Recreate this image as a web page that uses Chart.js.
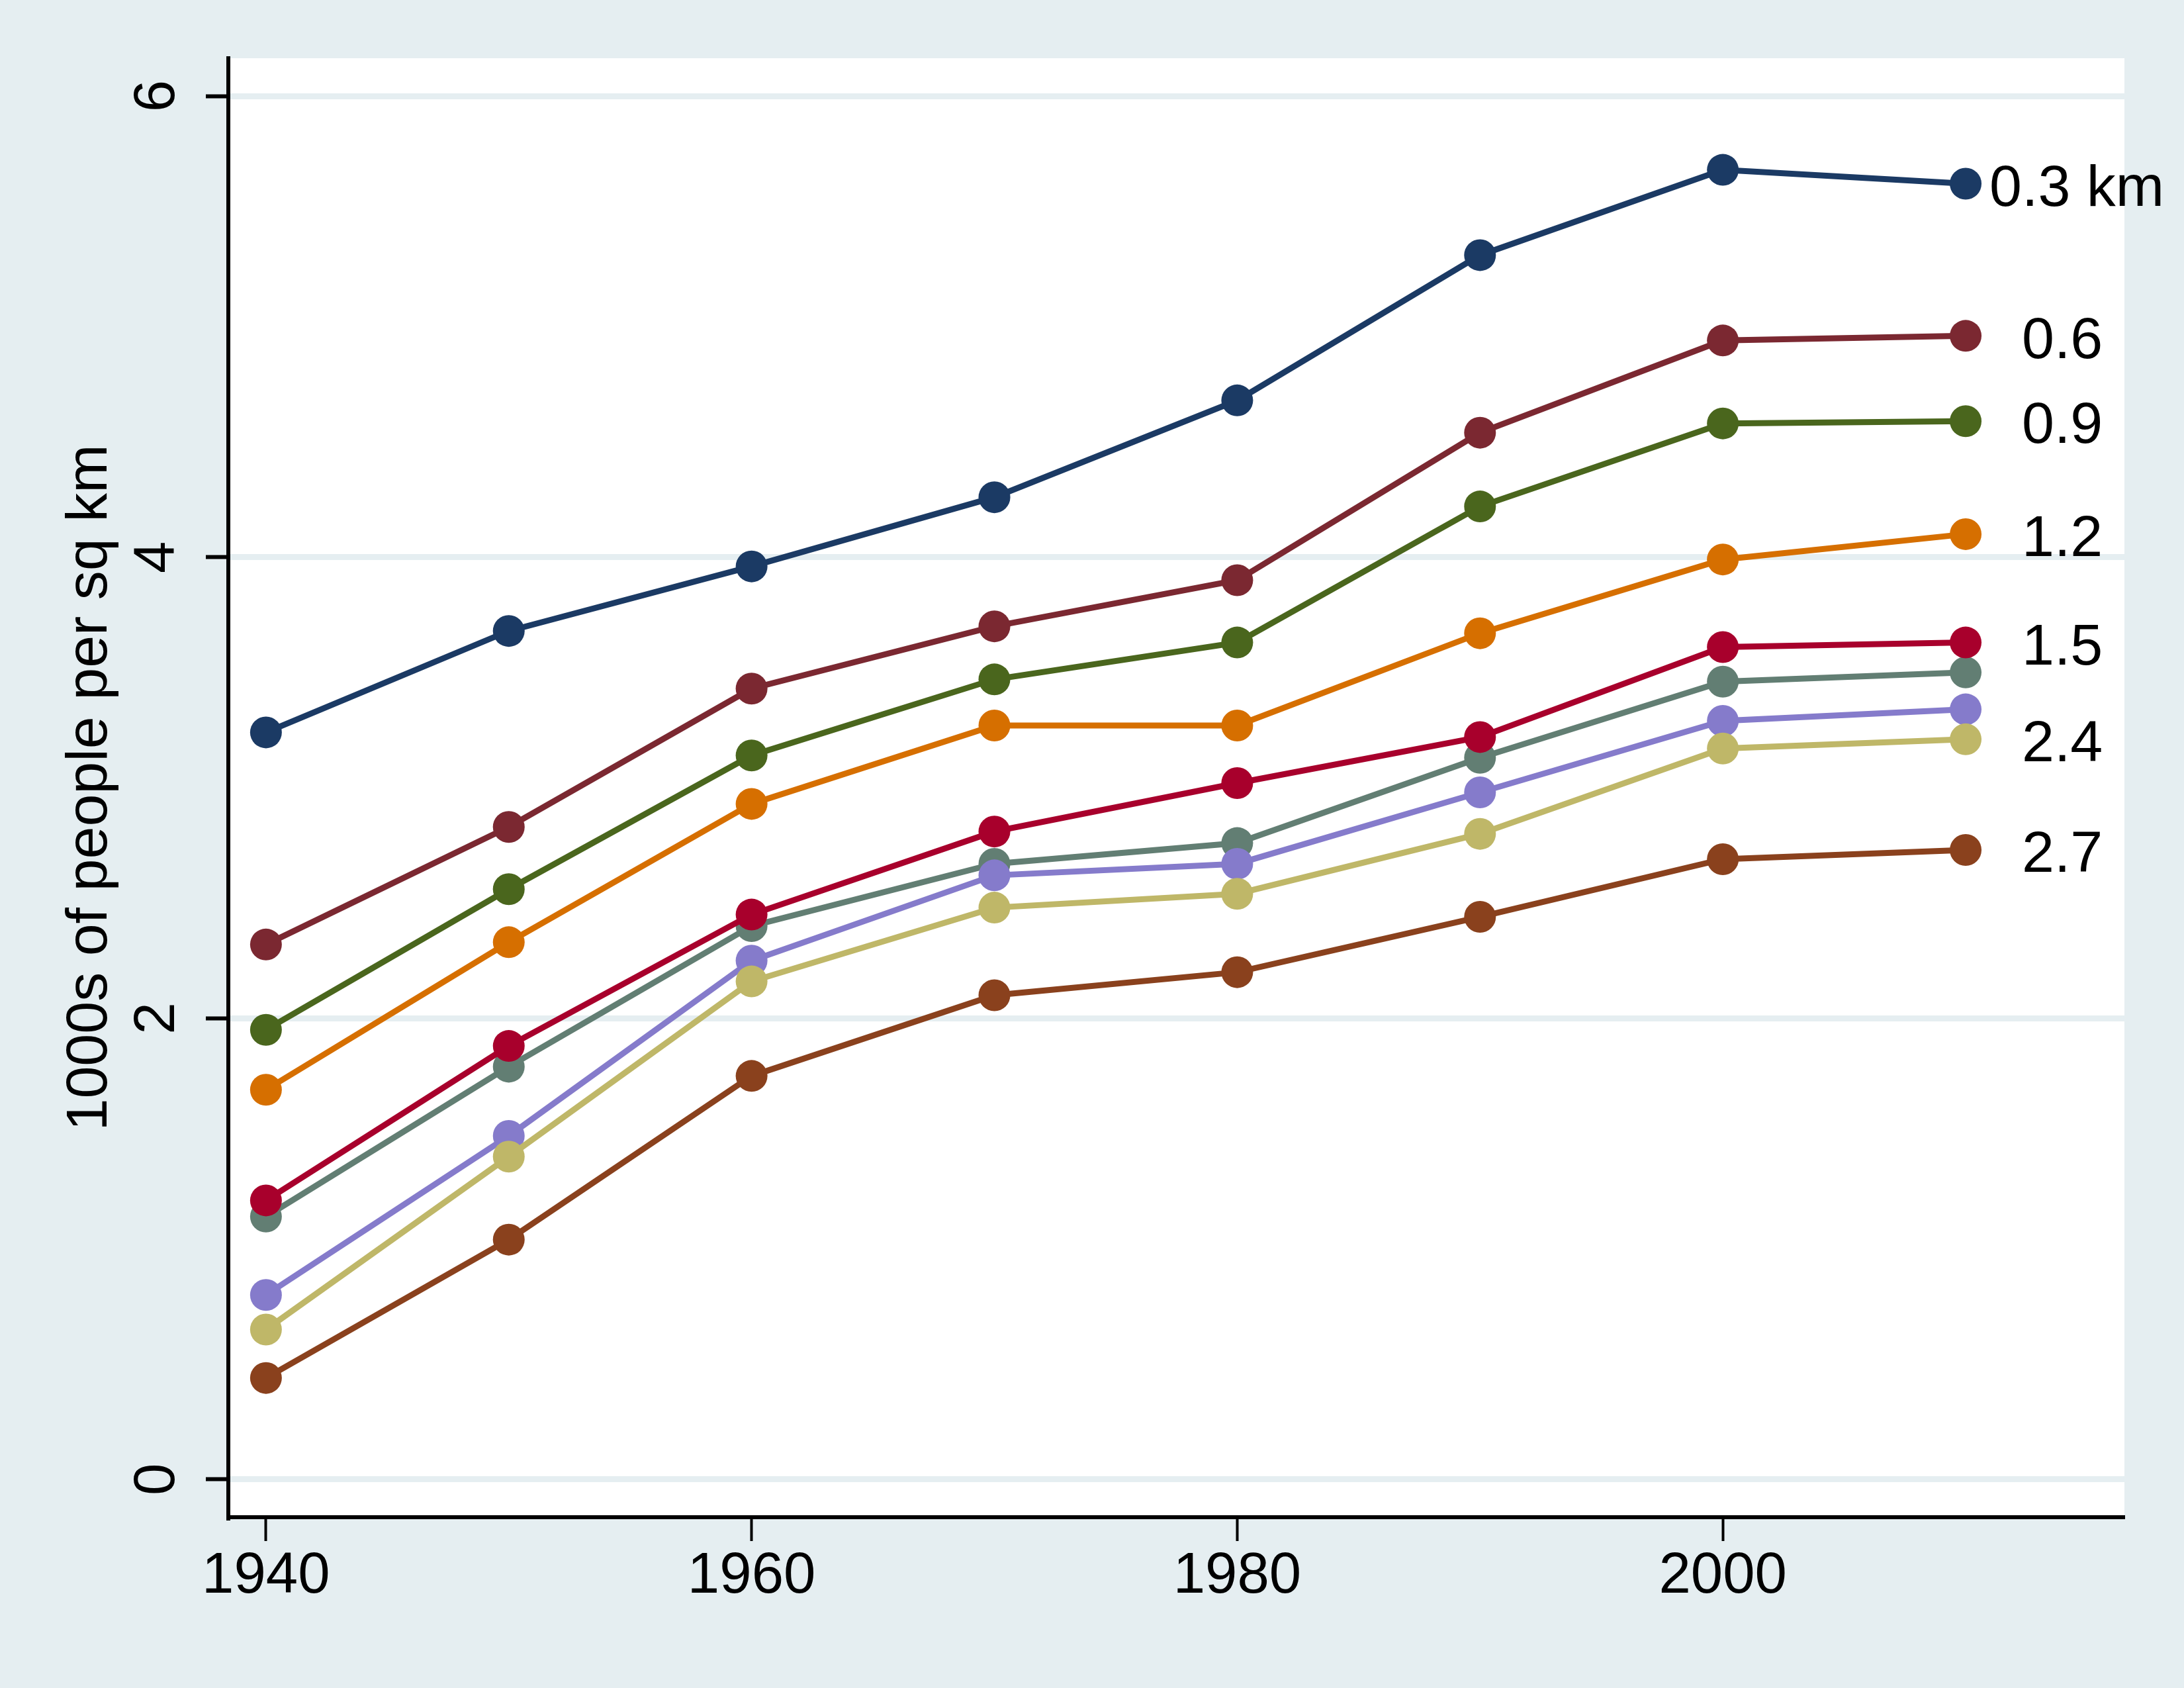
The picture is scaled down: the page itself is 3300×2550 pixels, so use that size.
<!DOCTYPE html>
<html>
<head>
<meta charset="utf-8">
<script src="https://cdn.jsdelivr.net/npm/chart.js@4.4.0/dist/chart.umd.min.js"></script>
<style>
    html, body { margin: 0; padding: 0; background: #E5EEF1; }
    canvas { display: block; }
</style>
</head>
<body>
<canvas id="density" width="3300" height="2550"></canvas>
<script>
"use strict";
// census years and density (1000s of people per sq km) per distance ring
var years = [1940, 1950, 1960, 1970, 1980, 1990, 2000, 2010];
var ring1 = [3.24, 3.68, 3.96, 4.26, 4.68, 5.31, 5.68, 5.62];
var ring2 = [2.32, 2.83, 3.43, 3.70, 3.90, 4.54, 4.94, 4.96];
var ring3 = [1.95, 2.56, 3.14, 3.47, 3.63, 4.22, 4.58, 4.59];
var ring4 = [1.69, 2.33, 2.93, 3.27, 3.27, 3.67, 3.99, 4.10];
var ring5 = [1.14, 1.79, 2.40, 2.67, 2.76, 3.13, 3.46, 3.50];
var ring6 = [1.21, 1.88, 2.45, 2.81, 3.02, 3.22, 3.61, 3.63];
var ring7 = [0.80, 1.49, 2.25, 2.62, 2.67, 2.98, 3.29, 3.34];
var ring8 = [0.65, 1.40, 2.16, 2.48, 2.54, 2.80, 3.17, 3.21];
var ring9 = [0.44, 1.04, 1.75, 2.10, 2.20, 2.44, 2.69, 2.73];
var endLabels = ["0.3 km", "  0.6", "  0.9", "  1.2", "", "  1.5", "", "  2.4", "  2.7"];
var yTicks = [0, 2, 4, 6];
var xTicks = [1940, 1960, 1980, 2000];

var rings = [ring1, ring2, ring3, ring4, ring5, ring6, ring7, ring8, ring9];
var colors = ["#1B3A64", "#7B2831", "#4A661D", "#D66F00", "#627E73", "#A8002C", "#857BCB", "#BFB768", "#8A411D"];
var bgColor = "#E5EEF1";
var fontFamily = "'Liberation Sans', Arial, sans-serif";

var backdrop = {
    id: "backdrop",
    beforeDraw: function(chart) {
        var ctx = chart.ctx, a = chart.chartArea;
        ctx.save();
        ctx.fillStyle = bgColor;
        ctx.fillRect(0, 0, chart.width, chart.height);
        ctx.fillStyle = "#FFFFFF";
        ctx.fillRect(a.left, a.top, a.right - a.left, a.bottom - a.top);
        ctx.restore();
    }
};

var lineEnds = {
    id: "lineEnds",
    afterDatasetsDraw: function(chart) {
        var ctx = chart.ctx;
        ctx.save();
        ctx.font = "88px " + fontFamily;
        ctx.fillStyle = "#000";
        ctx.textBaseline = "middle";
        ctx.textAlign = "left";
        chart.data.datasets.forEach(function(ds, i) {
            if (!endLabels[i]) return;
            var pts = chart.getDatasetMeta(i).data;
            var p = pts[pts.length - 1];
            ctx.fillText(endLabels[i], p.x + 36, p.y + 9);
        });
        ctx.restore();
    }
};

var datasets = rings.map(function(values, i) {
    return {
        data: values,
        borderColor: colors[i],
        backgroundColor: colors[i],
        pointBackgroundColor: colors[i],
        borderWidth: 9,
        pointRadius: 24,
        pointHoverRadius: 24,
        pointBorderWidth: 0,
        tension: 0,
        order: rings.length - i
    };
});

new Chart(document.getElementById("density").getContext("2d"), {
    type: "line",
    data: { labels: years, datasets: datasets },
    options: {
        responsive: false,
        animation: false,
        layout: { padding: { top: 88, right: 90, bottom: 0, left: 0 } },
        plugins: { legend: { display: false }, tooltip: { enabled: false } },
        scales: {
            x: {
                type: "linear",
                min: 1938.45,
                max: 2016.54,
                afterBuildTicks: function(s) { s.ticks = xTicks.map(function(v) { return { value: v }; }); },
                afterFit: function(s) { s.height = 258; s.paddingLeft = 0; s.paddingRight = 0; },
                ticks: {
                    autoSkip: false,
                    maxRotation: 0,
                    padding: 2,
                    color: "#000",
                    font: { family: fontFamily, size: 87 },
                    callback: function(v) { return String(v); }
                },
                grid: { drawOnChartArea: false, drawTicks: true, tickColor: "#000", tickWidth: 4, tickLength: 36 },
                border: { display: true, color: "#000", width: 6 }
            },
            y: {
                type: "linear",
                min: -0.164,
                max: 6.164,
                afterBuildTicks: function(s) { s.ticks = yTicks.map(function(v) { return { value: v }; }); },
                afterFit: function(s) { s.width = 345; s.paddingTop = 0; s.paddingBottom = 0; },
                ticks: {
                    minRotation: 90,
                    maxRotation: 90,
                    crossAlign: "center",
                    padding: 48,
                    color: "#000",
                    font: { family: fontFamily, size: 87 },
                    callback: function(v) { return String(v); }
                },
                grid: { color: bgColor, lineWidth: 9, drawTicks: true, tickColor: "#000", tickWidth: 6, tickLength: 34 },
                border: { display: true, color: "#000", width: 6 },
                title: {
                    display: true,
                    text: "1000s of people per sq km",
                    color: "#000",
                    font: { family: fontFamily, size: 88 },
                    padding: { top: 84, bottom: 0 }
                }
            }
        }
    },
    plugins: [backdrop, lineEnds]
});
</script>
</body>
</html>
